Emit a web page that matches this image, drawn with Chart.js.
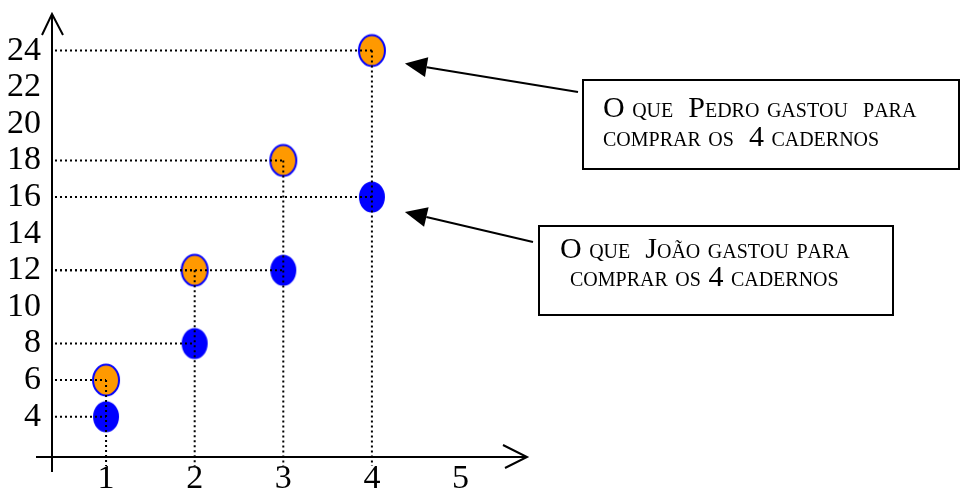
<!DOCTYPE html>
<html lang="pt">
<head>
  <meta charset="UTF-8">
  <title>Gastos com cadernos</title>
  <script src="https://cdn.jsdelivr.net/npm/chart.js"></script>
  <style>
    body { margin: 0; padding: 0; background: #fff; }
    canvas { display: block; }
  </style>
</head>
<body>
  <canvas id="myChart" width="962" height="493"></canvas>
  <script>
    // data
    var cadernos = [1, 2, 3, 4];
    var gastoPedro = [6, 12, 18, 24];
    var gastoJoao = [4, 8, 12, 16];
    var xTickLabels = [1, 2, 3, 4, 5];
    var yTickLabels = [4, 6, 8, 10, 12, 14, 16, 18, 20, 22, 24];
    var notaPedro = ['O que  Pedro gastou  para', 'comprar os  4 cadernos'];
    var notaJoao = ['O que  João gastou para', 'comprar os 4 cadernos'];

    var serif = '"Liberation Serif", "Times New Roman", serif';

    // ellipse shaped markers, like the drawing
    function makeDot(fill, stroke) {
      var c = document.createElement('canvas');
      c.width = 32; c.height = 36;
      var g = c.getContext('2d');
      g.beginPath();
      g.ellipse(16, 18, 13, 15.5, 0, 0, Math.PI * 2);
      g.fillStyle = fill;
      g.fill();
      if (stroke) {
        g.lineWidth = 2;
        g.strokeStyle = stroke;
        g.stroke();
      }
      return c;
    }

    function pts(ys) {
      return cadernos.map(function (x, i) { return { x: x, y: ys[i] }; });
    }

    function drawSmallCaps(ctx, text, x, y, big, small) {
      for (var i = 0; i < text.length; i++) {
        var ch = text[i];
        var lower = ch !== ch.toUpperCase();
        var c = ch.toUpperCase();
        ctx.font = (lower ? small : big) + 'px ' + serif;
        ctx.fillText(c, x, y);
        x += ctx.measureText(c).width;
      }
    }

    function arrow(ctx, x1, y1, x2, y2) {
      var a = Math.atan2(y2 - y1, x2 - x1);
      var len = 22, half = 10;
      var bx = x2 - Math.cos(a) * len, by = y2 - Math.sin(a) * len;
      ctx.lineWidth = 2;
      ctx.beginPath();
      ctx.moveTo(x1, y1);
      ctx.lineTo(bx, by);
      ctx.stroke();
      ctx.beginPath();
      ctx.moveTo(x2, y2);
      ctx.lineTo(bx - Math.sin(a) * half, by + Math.cos(a) * half);
      ctx.lineTo(bx + Math.sin(a) * half, by - Math.cos(a) * half);
      ctx.closePath();
      ctx.fill();
    }

    var guidesPlugin = {
      id: 'guides',
      afterDatasetsDraw: function (chart) {
        var ctx = chart.ctx;
        var xs = chart.scales.x, ys = chart.scales.y;
        var area = chart.chartArea;
        ctx.save();
        ctx.strokeStyle = '#000';
        ctx.fillStyle = '#000';

        // dotted guide lines
        ctx.lineWidth = 2;
        ctx.setLineDash([2, 3]);
        cadernos.forEach(function (x, i) {
          var px = xs.getPixelForValue(x);
          var top = ys.getPixelForValue(Math.max(gastoPedro[i], gastoJoao[i]));
          ctx.beginPath();
          ctx.moveTo(px, top);
          ctx.lineTo(px, area.bottom + 9);
          ctx.stroke();
          [gastoPedro[i], gastoJoao[i]].forEach(function (v) {
            var py = ys.getPixelForValue(v);
            ctx.beginPath();
            ctx.moveTo(area.left + 3, py);
            ctx.lineTo(px, py);
            ctx.stroke();
          });
        });
        ctx.setLineDash([]);

        // axes with open arrow heads
        ctx.lineWidth = 2;
        ctx.beginPath();
        ctx.moveTo(area.left, area.bottom + 15);
        ctx.lineTo(area.left, area.top);
        ctx.moveTo(area.left - 10, area.top + 21);
        ctx.lineTo(area.left, area.top);
        ctx.lineTo(area.left + 11, area.top + 21);
        ctx.moveTo(area.left - 16, area.bottom);
        ctx.lineTo(area.right, area.bottom);
        ctx.moveTo(area.right - 24, area.bottom - 12);
        ctx.lineTo(area.right, area.bottom);
        ctx.lineTo(area.right - 22, area.bottom + 11);
        ctx.stroke();

        // note boxes
        ctx.lineWidth = 2;
        ctx.strokeRect(583, 80, 376, 89);
        ctx.strokeRect(539, 226, 354, 89);
        ctx.textBaseline = 'alphabetic';
        drawSmallCaps(ctx, notaPedro[0], 603, 117, 30, 20);
        drawSmallCaps(ctx, notaPedro[1], 603, 146, 30, 20);
        drawSmallCaps(ctx, notaJoao[0], 560, 258, 30, 20);
        drawSmallCaps(ctx, notaJoao[1], 570, 286, 30, 20);

        // arrows pointing at the last points
        var n = cadernos.length - 1;
        var tx = xs.getPixelForValue(cadernos[n]) + 33;
        arrow(ctx, 578, 92, tx, ys.getPixelForValue(gastoPedro[n]) + 13);
        arrow(ctx, 533, 242, tx, ys.getPixelForValue(gastoJoao[n]) + 15);
        ctx.restore();
      }
    };

    function noEdgePadding(scale) {
      scale.paddingTop = 0;
      scale.paddingBottom = 0;
      scale.paddingLeft = 0;
      scale.paddingRight = 0;
    }

    var ctx = document.getElementById('myChart').getContext('2d');
    new Chart(ctx, {
      type: 'scatter',
      data: {
        datasets: [{
          label: 'Pedro',
          data: pts(gastoPedro),
          pointStyle: makeDot('#ff9900', '#0000ff')
        }, {
          label: 'João',
          data: pts(gastoJoao),
          pointStyle: makeDot('#0000ff', null)
        }]
      },
      options: {
        responsive: false,
        devicePixelRatio: 1,
        animation: false,
        layout: { padding: { left: 0, top: 14, right: 435, bottom: 0 } },
        plugins: {
          legend: { display: false },
          tooltip: { enabled: false }
        },
        scales: {
          x: {
            type: 'linear',
            min: 0.39,
            max: 5.75,
            grid: { display: false, drawTicks: false },
            border: { display: false },
            afterBuildTicks: function (scale) {
              scale.ticks = xTickLabels.map(function (v) { return { value: v }; });
            },
            afterFit: function (scale) { scale.height = 36; noEdgePadding(scale); },
            ticks: {
              padding: 2,
              color: '#000',
              font: { family: serif, size: 34 }
            }
          },
          y: {
            type: 'linear',
            min: 1.8,
            max: 26,
            grid: { display: false, drawTicks: false },
            border: { display: false },
            afterBuildTicks: function (scale) {
              scale.ticks = yTickLabels.map(function (v) { return { value: v }; });
            },
            afterFit: function (scale) { scale.width = 52; noEdgePadding(scale); },
            ticks: {
              padding: 11,
              color: '#000',
              font: { family: serif, size: 34 }
            }
          }
        }
      },
      plugins: [guidesPlugin]
    });
  </script>
</body>
</html>
